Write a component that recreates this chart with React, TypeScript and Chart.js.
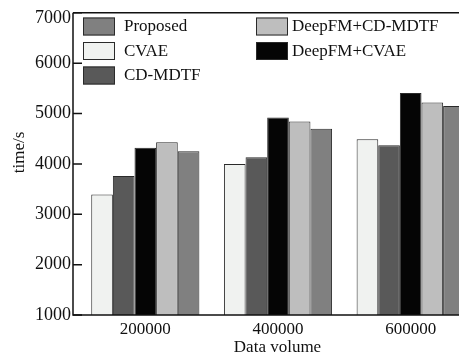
import { useEffect, useRef } from 'react';
import { Chart, registerables } from 'chart.js';
Chart.register(...registerables);

const dataVolumes = [200000, 400000, 600000];
const xTickLabels = ['200000', '400000', '600000'];
const yTickValues = [1000, 2000, 3000, 4000, 5000, 6000, 7000];

const cvae = [3390, 4000, 4490];
const cdMdtf = [3760, 4130, 4370];
const deepfmCvae = [4320, 4920, 5410];
const deepfmCdMdtf = [4430, 4840, 5220];
const proposed = [4250, 4700, 5150];

const seriesNames = ['CVAE', 'CD-MDTF', 'DeepFM+CVAE', 'DeepFM+CD-MDTF', 'Proposed'];
const seriesValues = [cvae, cdMdtf, deepfmCvae, deepfmCdMdtf, proposed];
const seriesColors = ['#f0f2f0', '#595959', '#050505', '#bebebe', '#808080'];

const legendColumns = [
  ['Proposed', 'CVAE', 'CD-MDTF'],
  ['DeepFM+CD-MDTF', 'DeepFM+CVAE'],
];

const FONT = '"Liberation Serif", "Times New Roman", serif';
const Y_MAX = 7000;

const framePlugin = {
  id: 'frame',
  afterDatasetsDraw(chart: any) {
    const { ctx, chartArea, scales } = chart;
    const { left, top, bottom } = chartArea;
    ctx.save();
    ctx.strokeStyle = '#111';
    ctx.lineWidth = 1.5;
    ctx.beginPath();
    ctx.moveTo(left, top);
    ctx.lineTo(chart.width, top);
    ctx.moveTo(left, top);
    ctx.lineTo(left, bottom);
    ctx.lineTo(chart.width, bottom);
    ctx.stroke();
    // inward y tick marks
    ctx.beginPath();
    for (const v of yTickValues) {
      const y = scales.y.getPixelForValue(v);
      ctx.moveTo(left, y);
      ctx.lineTo(left + 9, y);
    }
    ctx.stroke();

    // top tick label, nudged below the frame like the reference
    ctx.font = `18px ${FONT}`;
    ctx.fillStyle = '#111';
    ctx.textAlign = 'right';
    ctx.textBaseline = 'middle';
    ctx.fillText(String(Y_MAX), left - 2, scales.y.getPixelForValue(Y_MAX) + 5);

    // legend
    ctx.font = `17px ${FONT}`;
    ctx.textBaseline = 'middle';
    ctx.textAlign = 'left';
    const colX = [left + 10, left + 183];
    const rowY = [17.5, 42, 66.5];
    legendColumns.forEach((col, ci) => {
      col.forEach((name, ri) => {
        const idx = seriesNames.indexOf(name);
        const bx = colX[ci];
        const by = rowY[ri];
        ctx.fillStyle = seriesColors[idx];
        ctx.fillRect(bx, by, 32, 18);
        ctx.lineWidth = 1;
        ctx.strokeStyle = '#2a2a2a';
        ctx.strokeRect(bx + 0.5, by + 0.5, 31, 17);
        ctx.fillStyle = '#111';
        ctx.fillText(name, bx + 41 - (ci === 1 ? 5 : 0), by + 9.5);
      });
    });

    // axis titles
    ctx.font = `17px ${FONT}`;
    ctx.textAlign = 'center';
    ctx.textBaseline = 'middle';
    ctx.fillText('Data volume', 277.5, 348);
    ctx.save();
    ctx.translate(19.5, 152.5);
    ctx.rotate(-Math.PI / 2);
    ctx.fillText('time/s', 0, 0);
    ctx.restore();
    ctx.restore();
  },
};

export default function App() {
  const canvasRef = useRef<HTMLCanvasElement | null>(null);

  useEffect(() => {
    const canvas = canvasRef.current;
    if (!canvas) return;
    const chart = new Chart(canvas, {
      type: 'bar',
      data: {
        datasets: seriesNames.map((name, i) => ({
          label: name,
          data: dataVolumes.map((x, j) => ({ x, y: seriesValues[i][j] })),
          backgroundColor: seriesColors[i],
          borderColor: '#2a2a2a',
          borderWidth: 1,
          borderSkipped: false,
          categoryPercentage: 0.815,
          barPercentage: 1,
        })),
      },
      options: {
        animation: false,
        responsive: false,
        devicePixelRatio: 1,
        layout: { padding: { top: 12, right: 17, left: 0, bottom: 0 } },
        plugins: { legend: { display: false }, tooltip: { enabled: false } },
        scales: {
          x: {
            type: 'linear',
            offset: false,
            min: 91000,
            max: 709000,
            grid: { display: false, drawTicks: false, offset: false },
            border: { display: false },
            afterBuildTicks: (scale: any) => {
              scale.ticks = dataVolumes.map((v) => ({ value: v }));
            },
            afterFit: (scale: any) => {
              scale.height = 44;
            },
            ticks: {
              padding: 4,
              color: '#111',
              font: { family: FONT, size: 17 },
              callback: (v: any) => xTickLabels[dataVolumes.indexOf(Number(v))] ?? '',
            },
          },
          y: {
            min: 1000,
            max: Y_MAX,
            grid: { display: false, drawTicks: false },
            border: { display: false },
            afterBuildTicks: (scale: any) => {
              scale.ticks = yTickValues.map((v) => ({ value: v }));
            },
            afterFit: (scale: any) => {
              scale.width = 73;
            },
            ticks: {
              padding: 2,
              color: '#111',
              font: { family: FONT, size: 18 },
              callback: (v: any) => (Number(v) === Y_MAX ? '' : String(v)),
            },
          },
        },
      },
      plugins: [framePlugin],
    });
    return () => chart.destroy();
  }, []);

  return (
    <div
      style={{
        position: 'fixed',
        left: 0,
        top: 0,
        width: 459,
        height: 359,
        overflow: 'hidden',
        background: '#fff',
      }}
    >
      <canvas ref={canvasRef} width={500} height={359} style={{ display: 'block' }} />
    </div>
  );
}
